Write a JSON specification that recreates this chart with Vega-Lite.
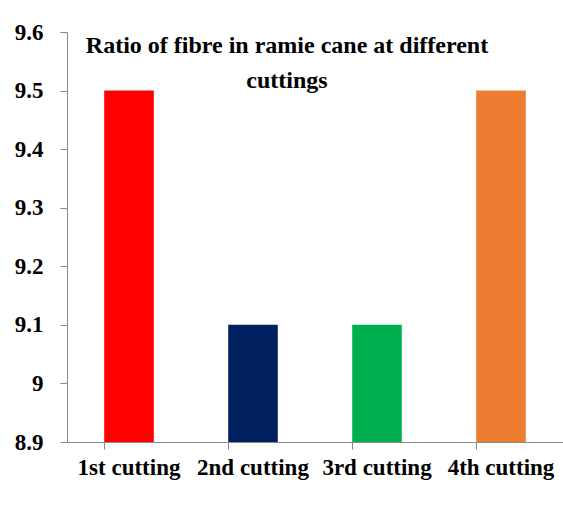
{
  "$schema": "https://vega.github.io/schema/vega-lite/v6.json",
  "width": 496,
  "height": 410,
  "autosize": {"type": "none"},
  "padding": {"left": 67, "top": 32, "right": 0, "bottom": 87},
  "background": "white",
  "config": {
    "view": {"stroke": null},
    "font": "Liberation Serif",
    "axis": {
      "labelFont": "Liberation Serif",
      "labelFontWeight": "bold",
      "labelFontSize": 23,
      "labelColor": "black",
      "domainColor": "#898989",
      "tickColor": "#898989",
      "tickSize": 7,
      "grid": false,
      "title": null
    }
  },
  "title": {
    "text": ["Ratio of fibre in ramie cane at different", "cuttings"],
    "font": "Liberation Serif",
    "fontSize": 24,
    "fontWeight": "bold",
    "color": "black",
    "anchor": "middle",
    "baseline": "top",
    "lineHeight": 35,
    "offset": 0,
    "dx": -28,
    "dy": 72
  },
  "data": {
    "values": [
      {"cutting": "1st cutting", "ratio": 9.5, "color": "#FF0000"},
      {"cutting": "2nd cutting", "ratio": 9.1, "color": "#002060"},
      {"cutting": "3rd cutting", "ratio": 9.1, "color": "#00B050"},
      {"cutting": "4th cutting", "ratio": 9.5, "color": "#ED7D31"}
    ]
  },
  "mark": {"type": "bar"},
  "encoding": {
    "x": {
      "field": "cutting",
      "type": "nominal",
      "sort": null,
      "scale": {"paddingInner": 0.6, "paddingOuter": 0.3},
      "axis": {"labelAngle": 0, "labelPadding": 7, "bandPosition": 0, "labelBaseline": "top"}
    },
    "y": {
      "field": "ratio",
      "type": "quantitative",
      "scale": {"domain": [8.9, 9.6], "zero": false, "nice": false},
      "axis": {"values": [8.9, 9.0, 9.1, 9.2, 9.3, 9.4, 9.5, 9.6], "format": "~g", "labelPadding": 17}
    },
    "y2": {"datum": 8.9},
    "color": {"field": "color", "type": "nominal", "scale": null, "legend": null}
  }
}
